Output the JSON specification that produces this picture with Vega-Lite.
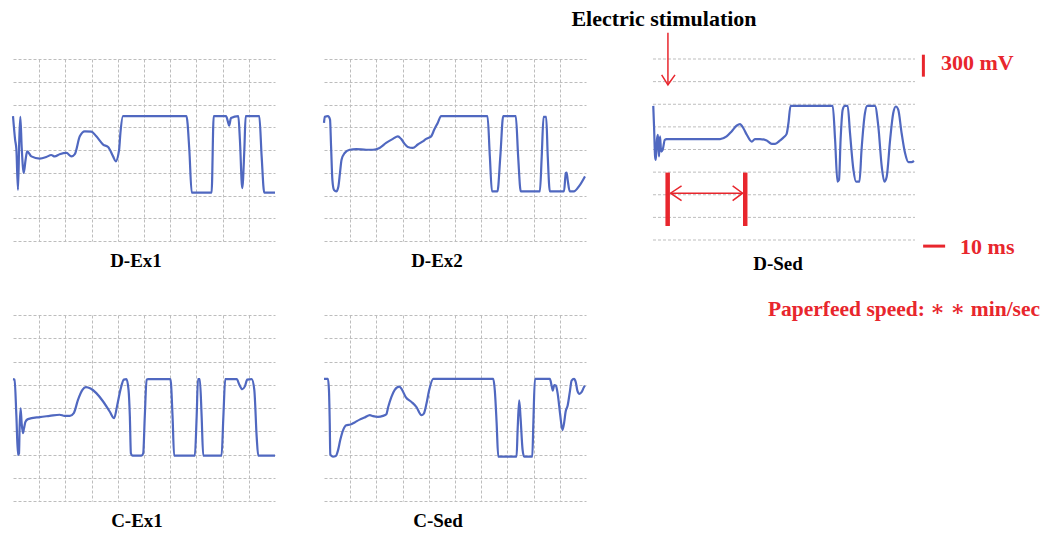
{
  "$schema": "https://vega.github.io/schema/vega-lite/v6.json",
  "autosize": {"type": "none"},
  "padding": {"left": 13, "top": 59, "right": 1029, "bottom": 475},
  "background": "white",
  "config": {
    "view": {"stroke": null},
    "title": {"font": "Liberation Serif", "fontWeight": "bold", "fontSize": 19, "color": "black", "orient": "bottom", "offset": 11}
  },
  "datasets": {
    "traces": [
      {"p":"D-Ex1","t":0,"v":5.49},{"p":"D-Ex1","t":0.08,"v":4.46},{"p":"D-Ex1","t":0.13,"v":4.01},{"p":"D-Ex1","t":0.19,"v":2.25},{"p":"D-Ex1","t":0.24,"v":4.46},{"p":"D-Ex1","t":0.28,"v":5.46},{"p":"D-Ex1","t":0.33,"v":4.16},{"p":"D-Ex1","t":0.41,"v":2.99},{"p":"D-Ex1","t":0.48,"v":3.57},{"p":"D-Ex1","t":0.54,"v":3.94},{"p":"D-Ex1","t":0.70,"v":3.72},{"p":"D-Ex1","t":1.02,"v":3.62},{"p":"D-Ex1","t":1.27,"v":3.69},{"p":"D-Ex1","t":1.46,"v":3.78},{"p":"D-Ex1","t":1.59,"v":3.72},{"p":"D-Ex1","t":1.78,"v":3.81},{"p":"D-Ex1","t":2.04,"v":3.87},{"p":"D-Ex1","t":2.23,"v":3.72},{"p":"D-Ex1","t":2.36,"v":3.82},{"p":"D-Ex1","t":2.55,"v":4.60},{"p":"D-Ex1","t":2.74,"v":4.82},{"p":"D-Ex1","t":2.99,"v":4.81},{"p":"D-Ex1","t":3.18,"v":4.60},{"p":"D-Ex1","t":3.44,"v":4.24},{"p":"D-Ex1","t":3.63,"v":4.13},{"p":"D-Ex1","t":3.82,"v":3.72},{"p":"D-Ex1","t":3.92,"v":3.50},{"p":"D-Ex1","t":4.05,"v":4.01},{"p":"D-Ex1","t":4.10,"v":4.75},{"p":"D-Ex1","t":4.20,"v":5.49},{"p":"D-Ex1","t":6.62,"v":5.49},{"p":"D-Ex1","t":6.73,"v":4.01},{"p":"D-Ex1","t":6.82,"v":2.13},{"p":"D-Ex1","t":7.58,"v":2.13},{"p":"D-Ex1","t":7.66,"v":5.49},{"p":"D-Ex1","t":8.13,"v":5.49},{"p":"D-Ex1","t":8.20,"v":5.26},{"p":"D-Ex1","t":8.25,"v":5.07},{"p":"D-Ex1","t":8.32,"v":5.41},{"p":"D-Ex1","t":8.60,"v":5.49},{"p":"D-Ex1","t":8.66,"v":4.46},{"p":"D-Ex1","t":8.75,"v":2.32},{"p":"D-Ex1","t":8.83,"v":4.01},{"p":"D-Ex1","t":8.88,"v":5.49},{"p":"D-Ex1","t":9.40,"v":5.49},{"p":"D-Ex1","t":9.49,"v":3.72},{"p":"D-Ex1","t":9.59,"v":2.13},{"p":"D-Ex1","t":10.0,"v":2.13},

      {"p":"D-Ex2","t":0,"v":5.19},{"p":"D-Ex2","t":0.03,"v":5.46},{"p":"D-Ex2","t":0.15,"v":5.49},{"p":"D-Ex2","t":0.23,"v":5.34},{"p":"D-Ex2","t":0.27,"v":4.16},{"p":"D-Ex2","t":0.32,"v":2.69},{"p":"D-Ex2","t":0.38,"v":2.25},{"p":"D-Ex2","t":0.47,"v":2.18},{"p":"D-Ex2","t":0.55,"v":2.40},{"p":"D-Ex2","t":0.61,"v":2.99},{"p":"D-Ex2","t":0.67,"v":3.57},{"p":"D-Ex2","t":0.79,"v":3.87},{"p":"D-Ex2","t":0.98,"v":4.01},{"p":"D-Ex2","t":1.23,"v":4.04},{"p":"D-Ex2","t":1.61,"v":4.01},{"p":"D-Ex2","t":1.87,"v":4.01},{"p":"D-Ex2","t":2.12,"v":4.09},{"p":"D-Ex2","t":2.37,"v":4.31},{"p":"D-Ex2","t":2.63,"v":4.49},{"p":"D-Ex2","t":2.82,"v":4.60},{"p":"D-Ex2","t":2.94,"v":4.49},{"p":"D-Ex2","t":3.07,"v":4.28},{"p":"D-Ex2","t":3.20,"v":4.13},{"p":"D-Ex2","t":3.39,"v":4.09},{"p":"D-Ex2","t":3.58,"v":4.24},{"p":"D-Ex2","t":3.77,"v":4.38},{"p":"D-Ex2","t":3.90,"v":4.49},{"p":"D-Ex2","t":4.09,"v":4.60},{"p":"D-Ex2","t":4.21,"v":4.90},{"p":"D-Ex2","t":4.34,"v":5.19},{"p":"D-Ex2","t":4.47,"v":5.49},{"p":"D-Ex2","t":6.24,"v":5.49},{"p":"D-Ex2","t":6.33,"v":3.72},{"p":"D-Ex2","t":6.41,"v":2.18},{"p":"D-Ex2","t":6.62,"v":2.18},{"p":"D-Ex2","t":6.73,"v":3.72},{"p":"D-Ex2","t":6.84,"v":5.49},{"p":"D-Ex2","t":7.32,"v":5.49},{"p":"D-Ex2","t":7.41,"v":3.72},{"p":"D-Ex2","t":7.51,"v":2.18},{"p":"D-Ex2","t":8.24,"v":2.18},{"p":"D-Ex2","t":8.31,"v":3.72},{"p":"D-Ex2","t":8.38,"v":5.46},{"p":"D-Ex2","t":8.48,"v":5.46},{"p":"D-Ex2","t":8.54,"v":3.72},{"p":"D-Ex2","t":8.62,"v":2.18},{"p":"D-Ex2","t":9.16,"v":2.18},{"p":"D-Ex2","t":9.23,"v":2.99},{"p":"D-Ex2","t":9.26,"v":3.01},{"p":"D-Ex2","t":9.30,"v":2.69},{"p":"D-Ex2","t":9.38,"v":2.18},{"p":"D-Ex2","t":9.54,"v":2.18},{"p":"D-Ex2","t":9.73,"v":2.40},{"p":"D-Ex2","t":9.96,"v":2.84},

      {"p":"D-Sed","t":0.01,"v":5.93},{"p":"D-Sed","t":0.04,"v":5.02},{"p":"D-Sed","t":0.08,"v":3.69},{"p":"D-Sed","t":0.11,"v":3.54},{"p":"D-Sed","t":0.15,"v":4.43},{"p":"D-Sed","t":0.19,"v":4.65},{"p":"D-Sed","t":0.23,"v":3.69},{"p":"D-Sed","t":0.27,"v":4.58},{"p":"D-Sed","t":0.31,"v":3.91},{"p":"D-Sed","t":0.37,"v":3.99},{"p":"D-Sed","t":0.45,"v":4.43},{"p":"D-Sed","t":0.52,"v":4.46},{"p":"D-Sed","t":1.28,"v":4.46},{"p":"D-Sed","t":2.56,"v":4.46},{"p":"D-Sed","t":2.81,"v":4.58},{"p":"D-Sed","t":3.00,"v":4.80},{"p":"D-Sed","t":3.19,"v":5.05},{"p":"D-Sed","t":3.32,"v":5.12},{"p":"D-Sed","t":3.45,"v":4.94},{"p":"D-Sed","t":3.58,"v":4.65},{"p":"D-Sed","t":3.77,"v":4.35},{"p":"D-Sed","t":3.89,"v":4.46},{"p":"D-Sed","t":4.08,"v":4.46},{"p":"D-Sed","t":4.34,"v":4.40},{"p":"D-Sed","t":4.53,"v":4.25},{"p":"D-Sed","t":4.66,"v":4.25},{"p":"D-Sed","t":4.85,"v":4.40},{"p":"D-Sed","t":5.00,"v":4.55},{"p":"D-Sed","t":5.10,"v":4.69},{"p":"D-Sed","t":5.17,"v":5.17},{"p":"D-Sed","t":5.25,"v":5.93},{"p":"D-Sed","t":6.86,"v":5.93},{"p":"D-Sed","t":6.95,"v":4.43},{"p":"D-Sed","t":7.04,"v":2.58},{"p":"D-Sed","t":7.10,"v":2.66},{"p":"D-Sed","t":7.16,"v":4.43},{"p":"D-Sed","t":7.24,"v":5.76},{"p":"D-Sed","t":7.32,"v":5.93},{"p":"D-Sed","t":7.43,"v":5.93},{"p":"D-Sed","t":7.52,"v":4.72},{"p":"D-Sed","t":7.65,"v":3.10},{"p":"D-Sed","t":7.75,"v":2.58},{"p":"D-Sed","t":7.88,"v":2.58},{"p":"D-Sed","t":7.96,"v":3.99},{"p":"D-Sed","t":8.09,"v":5.61},{"p":"D-Sed","t":8.18,"v":5.93},{"p":"D-Sed","t":8.47,"v":5.93},{"p":"D-Sed","t":8.60,"v":5.02},{"p":"D-Sed","t":8.73,"v":3.25},{"p":"D-Sed","t":8.83,"v":2.58},{"p":"D-Sed","t":8.92,"v":2.80},{"p":"D-Sed","t":9.05,"v":4.43},{"p":"D-Sed","t":9.17,"v":5.61},{"p":"D-Sed","t":9.27,"v":5.90},{"p":"D-Sed","t":9.36,"v":5.76},{"p":"D-Sed","t":9.49,"v":4.72},{"p":"D-Sed","t":9.62,"v":3.84},{"p":"D-Sed","t":9.75,"v":3.44},{"p":"D-Sed","t":9.87,"v":3.44},{"p":"D-Sed","t":9.96,"v":3.50},

      {"p":"C-Ex1","t":0,"v":5.24},{"p":"C-Ex1","t":0.06,"v":5.22},{"p":"C-Ex1","t":0.13,"v":3.64},{"p":"C-Ex1","t":0.19,"v":1.98},{"p":"C-Ex1","t":0.23,"v":2.05},{"p":"C-Ex1","t":0.25,"v":3.06},{"p":"C-Ex1","t":0.29,"v":3.99},{"p":"C-Ex1","t":0.33,"v":3.35},{"p":"C-Ex1","t":0.38,"v":2.92},{"p":"C-Ex1","t":0.42,"v":3.13},{"p":"C-Ex1","t":0.48,"v":3.42},{"p":"C-Ex1","t":0.57,"v":3.52},{"p":"C-Ex1","t":1.02,"v":3.61},{"p":"C-Ex1","t":1.40,"v":3.66},{"p":"C-Ex1","t":1.78,"v":3.71},{"p":"C-Ex1","t":1.97,"v":3.66},{"p":"C-Ex1","t":2.17,"v":3.66},{"p":"C-Ex1","t":2.32,"v":3.78},{"p":"C-Ex1","t":2.48,"v":4.35},{"p":"C-Ex1","t":2.65,"v":4.78},{"p":"C-Ex1","t":2.78,"v":4.90},{"p":"C-Ex1","t":2.96,"v":4.84},{"p":"C-Ex1","t":3.18,"v":4.64},{"p":"C-Ex1","t":3.44,"v":4.28},{"p":"C-Ex1","t":3.69,"v":3.85},{"p":"C-Ex1","t":3.86,"v":3.56},{"p":"C-Ex1","t":3.97,"v":4.07},{"p":"C-Ex1","t":4.10,"v":4.78},{"p":"C-Ex1","t":4.23,"v":5.22},{"p":"C-Ex1","t":4.33,"v":5.24},{"p":"C-Ex1","t":4.41,"v":4.78},{"p":"C-Ex1","t":4.46,"v":3.64},{"p":"C-Ex1","t":4.50,"v":2.05},{"p":"C-Ex1","t":4.56,"v":1.95},{"p":"C-Ex1","t":4.90,"v":1.95},{"p":"C-Ex1","t":4.97,"v":2.05},{"p":"C-Ex1","t":5.03,"v":3.64},{"p":"C-Ex1","t":5.10,"v":5.22},{"p":"C-Ex1","t":5.16,"v":5.24},{"p":"C-Ex1","t":6.01,"v":5.24},{"p":"C-Ex1","t":6.09,"v":3.64},{"p":"C-Ex1","t":6.15,"v":1.95},{"p":"C-Ex1","t":6.94,"v":1.95},{"p":"C-Ex1","t":7.01,"v":3.64},{"p":"C-Ex1","t":7.06,"v":5.24},{"p":"C-Ex1","t":7.13,"v":5.24},{"p":"C-Ex1","t":7.20,"v":3.64},{"p":"C-Ex1","t":7.26,"v":1.95},{"p":"C-Ex1","t":7.96,"v":1.95},{"p":"C-Ex1","t":8.03,"v":3.64},{"p":"C-Ex1","t":8.10,"v":5.24},{"p":"C-Ex1","t":8.54,"v":5.24},{"p":"C-Ex1","t":8.64,"v":5.00},{"p":"C-Ex1","t":8.75,"v":4.81},{"p":"C-Ex1","t":8.85,"v":4.93},{"p":"C-Ex1","t":8.94,"v":5.22},{"p":"C-Ex1","t":9.11,"v":5.24},{"p":"C-Ex1","t":9.21,"v":4.78},{"p":"C-Ex1","t":9.30,"v":2.77},{"p":"C-Ex1","t":9.36,"v":1.95},{"p":"C-Ex1","t":10.0,"v":1.95},

      {"p":"C-Sed","t":0,"v":5.25},{"p":"C-Sed","t":0.15,"v":5.25},{"p":"C-Sed","t":0.19,"v":4.75},{"p":"C-Sed","t":0.22,"v":3.33},{"p":"C-Sed","t":0.24,"v":1.99},{"p":"C-Sed","t":0.34,"v":1.91},{"p":"C-Sed","t":0.45,"v":1.94},{"p":"C-Sed","t":0.54,"v":2.20},{"p":"C-Sed","t":0.62,"v":2.62},{"p":"C-Sed","t":0.73,"v":3.05},{"p":"C-Sed","t":0.85,"v":3.26},{"p":"C-Sed","t":1.01,"v":3.29},{"p":"C-Sed","t":1.17,"v":3.38},{"p":"C-Sed","t":1.36,"v":3.50},{"p":"C-Sed","t":1.55,"v":3.59},{"p":"C-Sed","t":1.75,"v":3.69},{"p":"C-Sed","t":1.87,"v":3.65},{"p":"C-Sed","t":2.06,"v":3.62},{"p":"C-Sed","t":2.25,"v":3.66},{"p":"C-Sed","t":2.38,"v":3.73},{"p":"C-Sed","t":2.45,"v":4.04},{"p":"C-Sed","t":2.57,"v":4.47},{"p":"C-Sed","t":2.70,"v":4.78},{"p":"C-Sed","t":2.87,"v":4.92},{"p":"C-Sed","t":2.96,"v":4.82},{"p":"C-Sed","t":3.12,"v":4.47},{"p":"C-Sed","t":3.34,"v":4.26},{"p":"C-Sed","t":3.53,"v":4.04},{"p":"C-Sed","t":3.72,"v":3.69},{"p":"C-Sed","t":3.81,"v":3.76},{"p":"C-Sed","t":3.91,"v":4.18},{"p":"C-Sed","t":4.01,"v":4.75},{"p":"C-Sed","t":4.17,"v":5.25},{"p":"C-Sed","t":6.46,"v":5.25},{"p":"C-Sed","t":6.52,"v":4.75},{"p":"C-Sed","t":6.59,"v":3.33},{"p":"C-Sed","t":6.65,"v":1.91},{"p":"C-Sed","t":7.35,"v":1.91},{"p":"C-Sed","t":7.39,"v":3.05},{"p":"C-Sed","t":7.45,"v":4.33},{"p":"C-Sed","t":7.50,"v":3.62},{"p":"C-Sed","t":7.58,"v":2.20},{"p":"C-Sed","t":7.64,"v":1.91},{"p":"C-Sed","t":7.95,"v":1.91},{"p":"C-Sed","t":7.99,"v":3.33},{"p":"C-Sed","t":8.05,"v":5.25},{"p":"C-Sed","t":8.62,"v":5.25},{"p":"C-Sed","t":8.70,"v":4.89},{"p":"C-Sed","t":8.73,"v":4.75},{"p":"C-Sed","t":8.79,"v":4.99},{"p":"C-Sed","t":8.85,"v":4.96},{"p":"C-Sed","t":8.92,"v":4.61},{"p":"C-Sed","t":9.01,"v":3.76},{"p":"C-Sed","t":9.10,"v":3.05},{"p":"C-Sed","t":9.17,"v":3.40},{"p":"C-Sed","t":9.22,"v":3.83},{"p":"C-Sed","t":9.30,"v":4.11},{"p":"C-Sed","t":9.39,"v":4.75},{"p":"C-Sed","t":9.45,"v":5.18},{"p":"C-Sed","t":9.54,"v":5.25},{"p":"C-Sed","t":9.61,"v":5.11},{"p":"C-Sed","t":9.67,"v":4.75},{"p":"C-Sed","t":9.75,"v":4.61},{"p":"C-Sed","t":9.83,"v":4.68},{"p":"C-Sed","t":9.92,"v":4.89},{"p":"C-Sed","t":9.96,"v":4.96}
    ],
    "gridrows": [{"g":0},{"g":1},{"g":2},{"g":3},{"g":4},{"g":5},{"g":6},{"g":7},{"g":8}]
  },
  "columns": 3,
  "align": "each",
  "bounds": "flush",
  "spacing": {"row": 74, "column": 49},
  "concat": [
    {
      "width": 262, "height": 182,
      "title": {"text": "D-Ex1", "dx": -8},
      "data": {"name": "traces"},
      "transform": [{"filter": "datum.p === 'D-Ex1'"}],
      "mark": {"type": "line", "interpolate": "monotone", "color": "#5068c0", "strokeWidth": 2.2},
      "encoding": {
        "x": {"field": "t", "type": "quantitative", "scale": {"domain": [0, 10], "nice": false, "zero": false},
              "axis": {"values": [1,2,3,4,5,6,7,8,9], "grid": true, "gridColor": "#bdbdbd", "gridDash": [3,2], "labels": false, "ticks": false, "domain": false, "title": null}},
        "y": {"field": "v", "type": "quantitative", "scale": {"domain": [0, 8], "nice": false, "zero": false},
              "axis": {"values": [0,1,2,3,4,5,6,7,8], "grid": true, "gridColor": "#bdbdbd", "gridDash": [3,2], "labels": false, "ticks": false, "domain": false, "title": null}}
      }
    },
    {
      "width": 262, "height": 182,
      "title": {"text": "D-Ex2", "dx": -18},
      "data": {"name": "traces"},
      "transform": [{"filter": "datum.p === 'D-Ex2'"}],
      "mark": {"type": "line", "interpolate": "monotone", "color": "#5068c0", "strokeWidth": 2.2},
      "encoding": {
        "x": {"field": "t", "type": "quantitative", "scale": {"domain": [0, 10], "nice": false, "zero": false},
              "axis": {"values": [1,2,3,4,5,6,7,8,9], "grid": true, "gridColor": "#bdbdbd", "gridDash": [3,2], "labels": false, "ticks": false, "domain": false, "title": null}},
        "y": {"field": "v", "type": "quantitative", "scale": {"domain": [0, 8], "nice": false, "zero": false},
              "axis": {"values": [0,1,2,3,4,5,6,7,8], "grid": true, "gridColor": "#bdbdbd", "gridDash": [3,2], "labels": false, "ticks": false, "domain": false, "title": null}}
      }
    },
    {
      "width": 280, "height": 181,
      "layer": [
        {
          "data": {"name": "gridrows"},
          "mark": {"type": "rule", "color": "#bdbdbd", "strokeDash": [3,2], "strokeWidth": 1},
          "encoding": {
            "y": {"field": "g", "type": "quantitative", "axis": null},
            "x": {"datum": 0},
            "x2": {"datum": 10}
          }
        },
        {
          "data": {"name": "traces"},
          "transform": [{"filter": "datum.p === 'D-Sed'"}],
          "mark": {"type": "line", "interpolate": "monotone", "color": "#5068c0", "strokeWidth": 2.2},
          "encoding": {
            "x": {"field": "t", "type": "quantitative", "scale": {"domain": [-0.687, 10], "nice": false, "zero": false},
                  "axis": {"values": [1,2,3,4,5,6,7,8,9], "grid": true, "gridColor": "#bdbdbd", "gridDash": [3,2], "labels": false, "ticks": false, "domain": false, "title": null}},
            "y": {"field": "v", "type": "quantitative", "scale": {"domain": [0, 8], "nice": false, "zero": false}, "axis": null}
          }
        },
        {
          "data": {"values": [
            {"seg": "stim", "k": 0, "t": 0.57, "v": 9.16}, {"seg": "stim", "k": 1, "t": 0.57, "v": 6.86},
            {"seg": "stimhead", "k": 0, "t": 0.33, "v": 7.30}, {"seg": "stimhead", "k": 1, "t": 0.57, "v": 6.86}, {"seg": "stimhead", "k": 2, "t": 0.84, "v": 7.30},
            {"seg": "span", "k": 0, "t": 0.67, "v": 2.07}, {"seg": "span", "k": 1, "t": 3.42, "v": 2.07},
            {"seg": "lefthead", "k": 0, "t": 1.09, "v": 2.39}, {"seg": "lefthead", "k": 1, "t": 0.67, "v": 2.07}, {"seg": "lefthead", "k": 2, "t": 1.09, "v": 1.74},
            {"seg": "righthead", "k": 0, "t": 3.04, "v": 2.39}, {"seg": "righthead", "k": 1, "t": 3.42, "v": 2.07}, {"seg": "righthead", "k": 2, "t": 3.04, "v": 1.74}
          ]},
          "mark": {"type": "line", "color": "#e8262d", "strokeWidth": 1.5},
          "encoding": {
            "x": {"field": "t", "type": "quantitative", "axis": null},
            "y": {"field": "v", "type": "quantitative", "axis": null},
            "detail": {"field": "seg"},
            "order": {"field": "k"}
          }
        },
        {
          "data": {"values": [
            {"seg": "mv", "k": 0, "t": 10.32, "v": 8.19}, {"seg": "mv", "k": 1, "t": 10.32, "v": 7.22},
            {"seg": "ms", "k": 0, "t": 10.31, "v": -0.27}, {"seg": "ms", "k": 1, "t": 11.15, "v": -0.27}
          ]},
          "mark": {"type": "line", "color": "#e8262d", "strokeWidth": 3},
          "encoding": {
            "x": {"field": "t", "type": "quantitative", "axis": null},
            "y": {"field": "v", "type": "quantitative", "axis": null},
            "detail": {"field": "seg"},
            "order": {"field": "k"}
          }
        },
        {
          "data": {"values": [
            {"seg": "start", "k": 0, "t": 0.56, "v": 2.98}, {"seg": "start", "k": 1, "t": 0.56, "v": 0.62},
            {"seg": "end", "k": 0, "t": 3.52, "v": 2.98}, {"seg": "end", "k": 1, "t": 3.52, "v": 0.62}
          ]},
          "mark": {"type": "line", "color": "#e8262d", "strokeWidth": 4.5},
          "encoding": {
            "x": {"field": "t", "type": "quantitative", "axis": null},
            "y": {"field": "v", "type": "quantitative", "axis": null},
            "detail": {"field": "seg"},
            "order": {"field": "k"}
          }
        },
        {
          "data": {"values": [{"t": 0.42, "v": 9.44, "label": "Electric stimulation"}]},
          "mark": {"type": "text", "font": "Liberation Serif", "fontWeight": "bold", "fontSize": 22, "color": "black", "align": "center", "baseline": "alphabetic"},
          "encoding": {
            "x": {"field": "t", "type": "quantitative", "axis": null},
            "y": {"field": "v", "type": "quantitative", "axis": null},
            "text": {"field": "label"}
          }
        },
        {
          "data": {"values": [{"t": 4.77, "v": -1.33, "label": "D-Sed"}]},
          "mark": {"type": "text", "font": "Liberation Serif", "fontWeight": "bold", "fontSize": 19, "color": "black", "align": "center", "baseline": "alphabetic"},
          "encoding": {
            "x": {"field": "t", "type": "quantitative", "axis": null},
            "y": {"field": "v", "type": "quantitative", "axis": null},
            "text": {"field": "label"}
          }
        },
        {
          "data": {"values": [
            {"t": 10.99, "v": 7.53, "label": "300 mV"},
            {"t": 11.72, "v": -0.63, "label": "10 ms"}
          ]},
          "mark": {"type": "text", "font": "Liberation Serif", "fontWeight": "bold", "fontSize": 22, "color": "#e8262d", "align": "left", "baseline": "alphabetic"},
          "encoding": {
            "x": {"field": "t", "type": "quantitative", "axis": null},
            "y": {"field": "v", "type": "quantitative", "axis": null},
            "text": {"field": "label"}
          }
        },
        {
          "data": {"values": [{"t": 9.58, "v": -3.35, "label": "Paperfeed speed: ∗ ∗ min/sec"}]},
          "mark": {"type": "text", "font": "Liberation Serif, DejaVu Serif", "fontWeight": "bold", "fontSize": 21.5, "color": "#e8262d", "align": "center", "baseline": "alphabetic"},
          "encoding": {
            "x": {"field": "t", "type": "quantitative", "axis": null},
            "y": {"field": "v", "type": "quantitative", "axis": null},
            "text": {"field": "label"}
          }
        }
      ]
    },
    {
      "width": 262, "height": 186,
      "title": {"text": "C-Ex1", "dx": -7},
      "data": {"name": "traces"},
      "transform": [{"filter": "datum.p === 'C-Ex1'"}],
      "mark": {"type": "line", "interpolate": "monotone", "color": "#5068c0", "strokeWidth": 2.2},
      "encoding": {
        "x": {"field": "t", "type": "quantitative", "scale": {"domain": [0, 10], "nice": false, "zero": false},
              "axis": {"values": [1,2,3,4,5,6,7,8,9], "grid": true, "gridColor": "#bdbdbd", "gridDash": [3,2], "labels": false, "ticks": false, "domain": false, "title": null}},
        "y": {"field": "v", "type": "quantitative", "scale": {"domain": [0, 8], "nice": false, "zero": false},
              "axis": {"values": [0,1,2,3,4,5,6,7,8], "grid": true, "gridColor": "#bdbdbd", "gridDash": [3,2], "labels": false, "ticks": false, "domain": false, "title": null}}
      }
    },
    {
      "width": 262, "height": 186,
      "title": {"text": "C-Sed", "dx": -17},
      "data": {"name": "traces"},
      "transform": [{"filter": "datum.p === 'C-Sed'"}],
      "mark": {"type": "line", "interpolate": "monotone", "color": "#5068c0", "strokeWidth": 2.2},
      "encoding": {
        "x": {"field": "t", "type": "quantitative", "scale": {"domain": [0, 10], "nice": false, "zero": false},
              "axis": {"values": [1,2,3,4,5,6,7,8,9], "grid": true, "gridColor": "#bdbdbd", "gridDash": [3,2], "labels": false, "ticks": false, "domain": false, "title": null}},
        "y": {"field": "v", "type": "quantitative", "scale": {"domain": [0, 8], "nice": false, "zero": false},
              "axis": {"values": [0,1,2,3,4,5,6,7,8], "grid": true, "gridColor": "#bdbdbd", "gridDash": [3,2], "labels": false, "ticks": false, "domain": false, "title": null}}
      }
    }
  ]
}
